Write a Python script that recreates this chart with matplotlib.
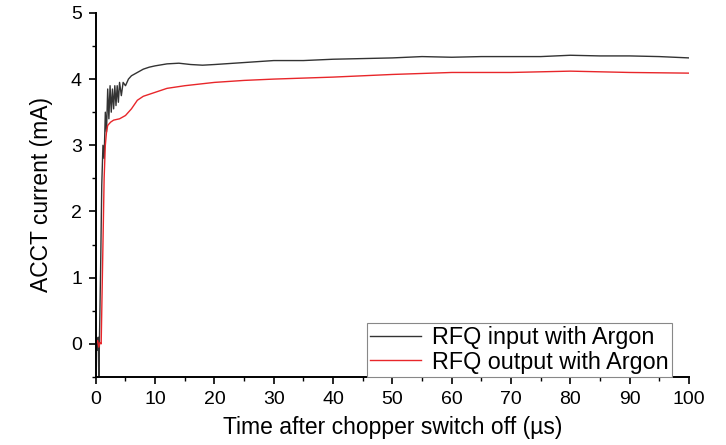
import numpy as np
import matplotlib.pyplot as plt

plt.rcParams['font.family'] = ['Liberation Sans', 'DejaVu Sans']

# -- Data (time in us, current in mA)
t_in = [0, 0.2, 0.4, 0.5, 0.6, 0.8, 1.0, 1.2, 1.4, 1.6, 1.8, 2.0, 2.2, 2.4,
        2.6, 2.8, 3.0, 3.2, 3.4, 3.6, 3.8, 4.0, 4.3, 4.6, 5.0, 5.5, 6, 7, 8,
        9, 10, 12, 14, 16, 18, 20, 25, 30, 35, 40, 45, 50, 55, 60, 65, 70,
        75, 80, 85, 90, 95, 100]
i_in = [0.2, -0.1, 0.1, -0.5, 0.0, 1.1, 2.4, 3.0, 2.8, 3.5, 3.2, 3.85, 3.4,
        3.9, 3.5, 3.85, 3.55, 3.9, 3.6, 3.9, 3.65, 3.95, 3.75, 3.95, 3.9,
        4.0, 4.05, 4.1, 4.15, 4.18, 4.2, 4.23, 4.24, 4.22, 4.21, 4.22, 4.25,
        4.28, 4.28, 4.3, 4.31, 4.32, 4.34, 4.33, 4.34, 4.34, 4.34, 4.36,
        4.35, 4.35, 4.34, 4.32]

t_out = [0, 0.3, 0.5, 0.7, 0.9, 1.0, 1.2, 1.4, 1.6, 1.8, 2.0, 2.5, 3, 4, 5,
         6, 7, 8, 10, 12, 15, 20, 25, 30, 40, 50, 60, 70, 80, 90, 100]
i_out = [0.0, 0.05, -0.05, 0.02, 0.0, 0.5, 1.5, 2.5, 3.0, 3.2, 3.3, 3.35,
         3.38, 3.4, 3.45, 3.55, 3.68, 3.74, 3.8, 3.86, 3.9, 3.95, 3.98, 4.0,
         4.03, 4.07, 4.1, 4.1, 4.12, 4.1, 4.09]

labels = ['RFQ input with Argon', 'RFQ output with Argon']

# -- Plot
fig = plt.figure(figsize=(7.26, 4.45), dpi=100)
ax = fig.add_axes([0.132, 0.153, 0.817, 0.818])
ax.plot(t_in, i_in, color='#333333', lw=1.0, label=labels[0])
ax.plot(t_out, i_out, color='#e8262a', lw=1.0, label=labels[1])

ax.set_xlim(0, 100)
ax.set_ylim(-0.5, 5)
ax.set_xticks(np.arange(0, 101, 10))
ax.set_xticks(np.arange(0, 101, 5), minor=True)
ax.set_yticks(np.arange(0, 6, 1))
ax.set_yticks(np.arange(-0.5, 5.01, 0.5), minor=True)
ax.tick_params(which='major', length=5, width=1.2, labelsize=14, pad=5)
ax.tick_params(which='minor', length=3, width=1.0)
for s in ['top', 'right']:
    ax.spines[s].set_visible(False)
for s in ['left', 'bottom']:
    ax.spines[s].set_linewidth(1.4)

ax.set_xlabel('Time after chopper switch off (µs)', fontsize=16.5, labelpad=6)
ax.set_ylabel('ACCT current (mA)', fontsize=16.5, labelpad=13)

leg = ax.legend(loc='lower right', bbox_to_anchor=(672 / 726, 1 - 377 / 445),
                bbox_transform=fig.transFigure, fontsize=16.8, fancybox=False,
                edgecolor='#888888', framealpha=1, handlelength=2.2,
                borderaxespad=0, borderpad=0.15, labelspacing=0.05,
                handletextpad=0.45)
leg.get_frame().set_linewidth(0.8)

plt.savefig('out.png', dpi=100)
plt.close(fig)
